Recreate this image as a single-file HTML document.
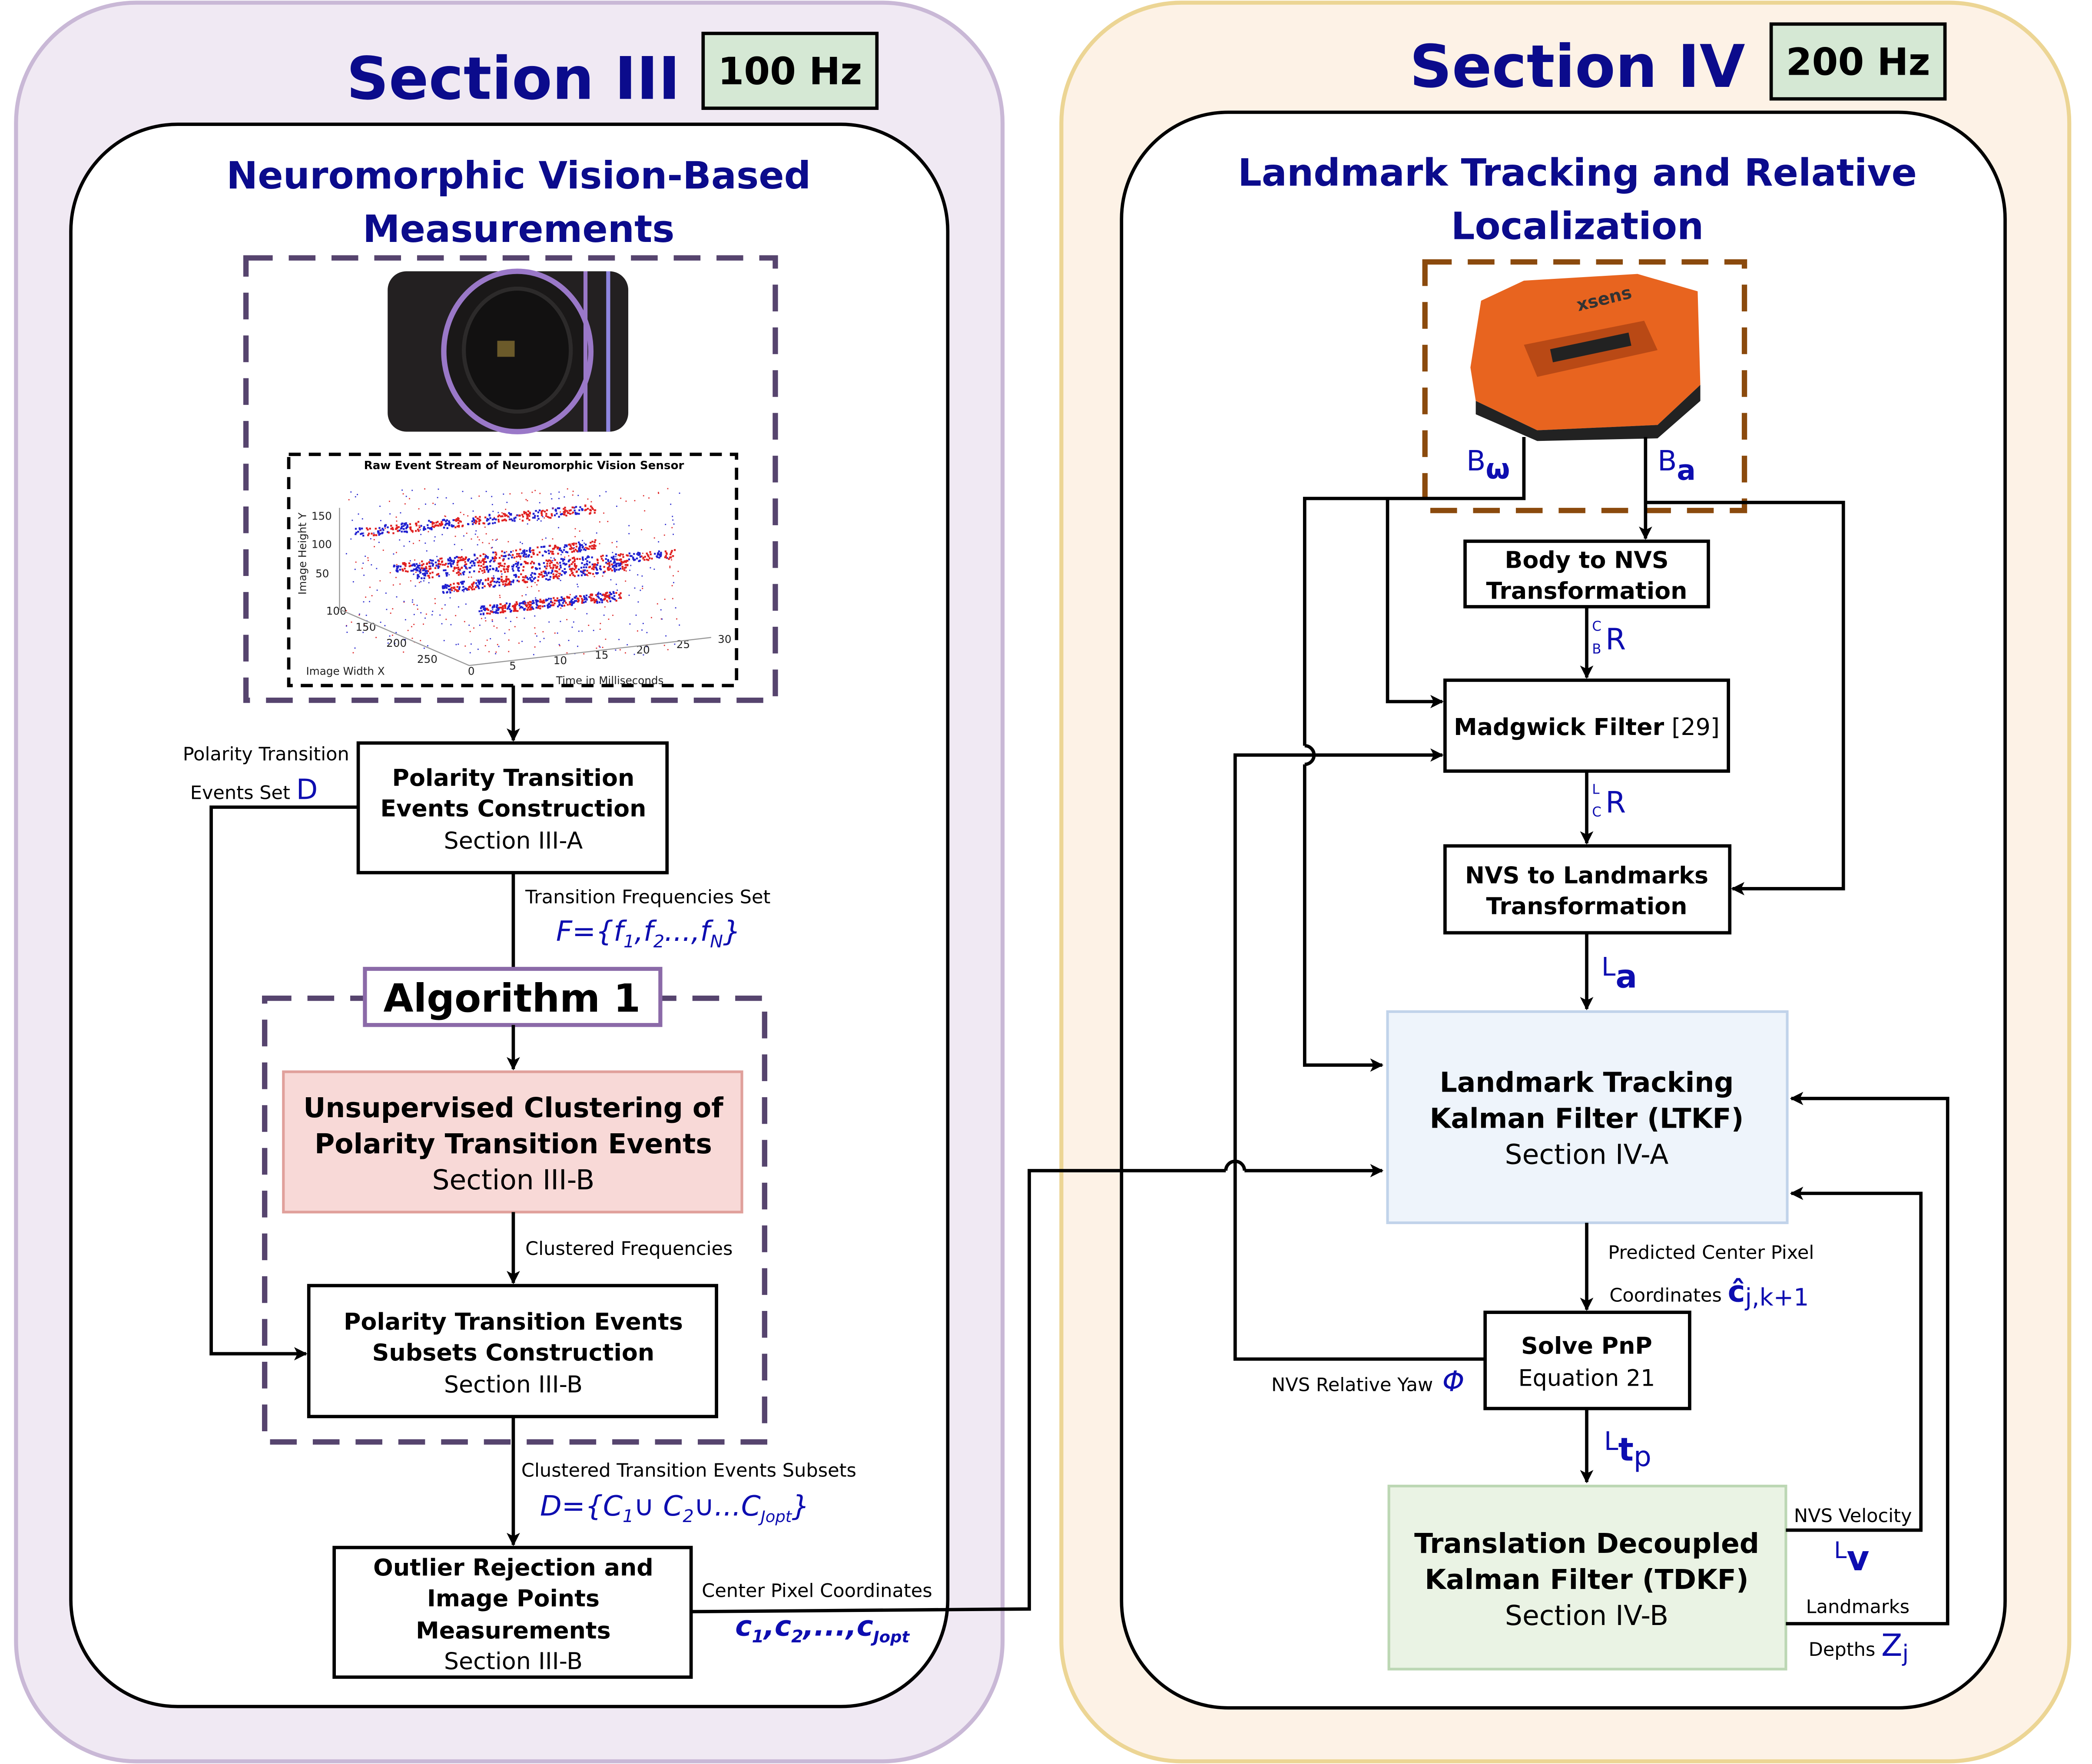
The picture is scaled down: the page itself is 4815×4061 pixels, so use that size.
<!DOCTYPE html>
<html><head><meta charset="utf-8"><style>
html,body{margin:0;padding:0;background:#fff}
svg{display:block}
text{font-family:"DejaVu Sans","Liberation Sans",sans-serif}
.b{font-weight:bold}
.bl{fill:#0d0db0}
.nb{fill:#0b0b8c;font-weight:bold}
</style></head><body>
<svg id="s" width="4815" height="4061" viewBox="0 0 1565 1320" preserveAspectRatio="none" xmlns="http://www.w3.org/2000/svg">
<defs><marker id="a" markerWidth="10" markerHeight="10" refX="9" refY="5" orient="auto" markerUnits="userSpaceOnUse"><path d="M0,0 L10,5 L0,10 L2.5,5 Z" fill="#000"/></marker></defs>
<!-- Left -->
<rect x="12" y="2" width="738" height="1316" rx="90" fill="#f0e9f3" stroke="#c9b8d6" stroke-width="3"/>
<rect x="53" y="93" width="656" height="1184" rx="80" fill="#fff" stroke="#000" stroke-width="2.5"/>
<text x="384" y="74" font-size="44" text-anchor="middle" class="nb">Section III</text>
<rect x="526" y="25" width="130" height="56" fill="#d5e8d4" stroke="#000" stroke-width="2.5"/>
<text x="591" y="63" font-size="28" text-anchor="middle" class="b">100 Hz</text>
<text x="388" y="141" font-size="28" text-anchor="middle" class="nb">Neuromorphic Vision-Based</text>
<text x="388" y="181" font-size="28" text-anchor="middle" class="nb">Measurements</text>
<rect x="184" y="193" width="396" height="331" fill="none" stroke="#56446e" stroke-width="4" stroke-dasharray="20 12"/>
<rect x="290" y="203" width="180" height="120" rx="14" fill="#232021"/>
<ellipse cx="387" cy="263" rx="55" ry="60" fill="#1a1818" stroke="#9a78c8" stroke-width="4"/>
<ellipse cx="387" cy="262" rx="40" ry="46" fill="#121111" stroke="#2c2a2a" stroke-width="3"/>
<rect x="372" y="255" width="13" height="12" fill="#6b5a2a"/>
<line x1="438" y1="203" x2="438" y2="323" stroke="#9a78c8" stroke-width="3"/>
<line x1="455" y1="203" x2="455" y2="323" stroke="#8f86e0" stroke-width="3"/>
<rect x="216" y="340" width="335" height="173" fill="#fff" stroke="#000" stroke-width="2.5" stroke-dasharray="9 6"/>
<text x="392" y="351" font-size="8.5" text-anchor="middle" class="b">Raw Event Stream of Neuromorphic Vision Sensor</text>
<g id="dots"></g>
<g font-size="8" fill="#222">
<text x="233" y="389">150</text><text x="233" y="410">100</text><text x="236" y="432">50</text>
<text x="244" y="460">100</text><text x="266" y="472">150</text><text x="289" y="484">200</text><text x="312" y="496">250</text>
<text x="350" y="505">0</text><text x="381" y="501">5</text><text x="414" y="497">10</text><text x="445" y="493">15</text><text x="476" y="489">20</text><text x="506" y="485">25</text><text x="537" y="481">30</text>
<text x="229" y="505">Image Width X</text><text x="416" y="512">Time in Milliseconds</text>
<text transform="translate(229,445) rotate(-90)">Image Height Y</text>
</g>
<polyline points="254,380 254,456 351,498 532,477" fill="none" stroke="#999" stroke-width="0.8"/>
<line x1="384" y1="513" x2="384" y2="554" stroke="#000" stroke-width="2.5" marker-end="url(#a)"/>
<rect x="268" y="556" width="231" height="97" fill="#fff" stroke="#000" stroke-width="2.5"/>
<text x="384" y="588" font-size="17.5" text-anchor="middle" class="b">Polarity Transition</text>
<text x="384" y="611" font-size="17.5" text-anchor="middle" class="b">Events Construction</text>
<text x="384" y="635" font-size="17.5" text-anchor="middle">Section III-A</text>
<text x="199" y="569" font-size="14" text-anchor="middle">Polarity Transition</text>
<text x="190" y="598" font-size="14" text-anchor="middle">Events Set <tspan class="bl" font-size="21">D</tspan></text>
<polyline points="268,604 158,604 158,1013 229,1013" fill="none" stroke="#000" stroke-width="2.5" marker-end="url(#a)"/>
<line x1="384" y1="653" x2="384" y2="727" stroke="#000" stroke-width="2.5"/>
<text x="393" y="676" font-size="14">Transition Frequencies Set</text>
<text x="416" y="704" font-size="21" class="bl" font-style="italic">F={f<tspan font-size="13" dy="5">1</tspan><tspan dy="-5">,f</tspan><tspan font-size="13" dy="5">2</tspan><tspan dy="-5">...,f</tspan><tspan font-size="13" dy="5">N</tspan><tspan dy="-5">}</tspan></text>
<rect x="198" y="747" width="374" height="332" fill="none" stroke="#56446e" stroke-width="4" stroke-dasharray="20 12"/>
<rect x="273" y="725" width="221" height="42" fill="#fff" stroke="#8b6aa8" stroke-width="3"/>
<text x="383" y="757" font-size="29" text-anchor="middle" class="b">Algorithm 1</text>
<line x1="384" y1="767" x2="384" y2="800" stroke="#000" stroke-width="2.5" marker-end="url(#a)"/>
<rect x="212" y="802" width="343" height="105" fill="#f8d9d7" stroke="#e0a09b" stroke-width="2"/>
<text x="384" y="836" font-size="20.5" text-anchor="middle" class="b">Unsupervised Clustering of</text>
<text x="384" y="863" font-size="20.5" text-anchor="middle" class="b">Polarity Transition Events</text>
<text x="384" y="890" font-size="20.5" text-anchor="middle">Section III-B</text>
<line x1="384" y1="907" x2="384" y2="960" stroke="#000" stroke-width="2.5" marker-end="url(#a)"/>
<text x="393" y="939" font-size="14">Clustered Frequencies</text>
<rect x="231" y="962" width="305" height="98" fill="#fff" stroke="#000" stroke-width="2.5"/>
<text x="384" y="995" font-size="17.5" text-anchor="middle" class="b">Polarity Transition Events</text>
<text x="384" y="1018" font-size="17.5" text-anchor="middle" class="b">Subsets Construction</text>
<text x="384" y="1042" font-size="17.5" text-anchor="middle">Section III-B</text>
<line x1="384" y1="1060" x2="384" y2="1156" stroke="#000" stroke-width="2.5" marker-end="url(#a)"/>
<text x="390" y="1105" font-size="14">Clustered Transition Events Subsets</text>
<text x="404" y="1134" font-size="21" class="bl" font-style="italic">D={C<tspan font-size="13" dy="5">1</tspan><tspan dy="-5">∪ C</tspan><tspan font-size="13" dy="5">2</tspan><tspan dy="-5">∪...C</tspan><tspan font-size="12" dy="5">Jopt</tspan><tspan dy="-5">}</tspan></text>
<rect x="250" y="1158" width="267" height="97" fill="#fff" stroke="#000" stroke-width="2.5"/>
<text x="384" y="1179" font-size="17.5" text-anchor="middle" class="b">Outlier Rejection and</text>
<text x="384" y="1202" font-size="17.5" text-anchor="middle" class="b">Image Points</text>
<text x="384" y="1226" font-size="17.5" text-anchor="middle" class="b">Measurements</text>
<text x="384" y="1249" font-size="17.5" text-anchor="middle">Section III-B</text>
<text x="525" y="1195" font-size="14">Center Pixel Coordinates</text>
<text x="550" y="1224" font-size="21" class="bl" font-style="italic" font-weight="bold">c<tspan font-size="13" dy="5">1</tspan><tspan dy="-5">,c</tspan><tspan font-size="13" dy="5">2</tspan><tspan dy="-5">,...,c</tspan><tspan font-size="12" dy="5">Jopt</tspan></text>
<!-- Right -->
<rect x="794" y="2" width="754" height="1316" rx="90" fill="#fdf2e6" stroke="#ecd594" stroke-width="3"/>
<rect x="839" y="84" width="661" height="1194" rx="80" fill="#fff" stroke="#000" stroke-width="2.5"/>
<text x="1180" y="65" font-size="44" text-anchor="middle" class="nb">Section IV</text>
<rect x="1325" y="18" width="130" height="56" fill="#d5e8d4" stroke="#000" stroke-width="2.5"/>
<text x="1390" y="56" font-size="28" text-anchor="middle" class="b">200 Hz</text>
<text x="1180" y="139" font-size="28" text-anchor="middle" class="nb">Landmark Tracking and Relative</text>
<text x="1180" y="179" font-size="28" text-anchor="middle" class="nb">Localization</text>
<rect x="1066" y="196" width="239" height="186" fill="none" stroke="#8b4a0d" stroke-width="4" stroke-dasharray="20 12"/>
<path d="M1100,275 L1108,225 L1140,210 L1225,205 L1270,218 L1272,288 L1240,318 L1150,322 L1104,300 Z" fill="#e8641f"/>
<path d="M1104,300 L1150,322 L1240,318 L1272,288 L1272,300 L1240,328 L1150,330 L1104,310 Z" fill="#222"/>
<path d="M1140,258 L1230,240 L1240,262 L1150,282 Z" fill="#b94915"/>
<rect x="1160" y="255" width="60" height="10" fill="#222" transform="rotate(-12 1190 260)"/>
<text x="1180" y="233" font-size="13" fill="#333" class="b" transform="rotate(-14 1180 230)">xsens</text>
<text x="1097" y="352" font-size="21" class="bl">B<tspan font-weight="bold" dy="6">ω</tspan></text>
<text x="1240" y="352" font-size="21" class="bl">B<tspan font-weight="bold" dy="7">a</tspan></text>
<polyline points="1140,327 1140,373 976,373 976,558" fill="none" stroke="#000" stroke-width="2.5"/>
<path d="M976,558 A7,7 0 0 1 976,572" fill="none" stroke="#000" stroke-width="2.5"/>
<polyline points="976,572 976,797 1034,797" fill="none" stroke="#000" stroke-width="2.5" marker-end="url(#a)"/>
<polyline points="1038,373 1038,525 1079,525" fill="none" stroke="#000" stroke-width="2.5" marker-end="url(#a)"/>
<line x1="1231" y1="327" x2="1231" y2="403" stroke="#000" stroke-width="2.5" marker-end="url(#a)"/>
<polyline points="1231,376 1379,376 1379,665 1296,665" fill="none" stroke="#000" stroke-width="2.5" marker-end="url(#a)"/>
<rect x="1096" y="405" width="182" height="49" fill="#fff" stroke="#000" stroke-width="2.5"/>
<text x="1187" y="425" font-size="17.5" text-anchor="middle" class="b">Body to NVS</text>
<text x="1187" y="448" font-size="17.5" text-anchor="middle" class="b">Transformation</text>
<line x1="1187" y1="454" x2="1187" y2="507" stroke="#000" stroke-width="2.5" marker-end="url(#a)"/>
<text x="1191" y="472" font-size="10" class="bl">C</text><text x="1191" y="489" font-size="10" class="bl">B</text><text x="1201" y="486" font-size="22" class="bl">R</text>
<rect x="1081" y="509" width="212" height="68" fill="#fff" stroke="#000" stroke-width="2.5"/>
<text x="1187" y="550" font-size="17.5" text-anchor="middle"><tspan class="b">Madgwick Filter</tspan> [29]</text>
<line x1="1187" y1="577" x2="1187" y2="631" stroke="#000" stroke-width="2.5" marker-end="url(#a)"/>
<text x="1191" y="594" font-size="10" class="bl">L</text><text x="1191" y="611" font-size="10" class="bl">C</text><text x="1201" y="608" font-size="22" class="bl">R</text>
<rect x="1081" y="633" width="213" height="65" fill="#fff" stroke="#000" stroke-width="2.5"/>
<text x="1187" y="661" font-size="17.5" text-anchor="middle" class="b">NVS to Landmarks</text>
<text x="1187" y="684" font-size="17.5" text-anchor="middle" class="b">Transformation</text>
<line x1="1187" y1="698" x2="1187" y2="755" stroke="#000" stroke-width="2.5" marker-end="url(#a)"/>
<text x="1198" y="730" font-size="19" class="bl">L<tspan font-size="24" font-weight="bold" dy="9">a</tspan></text>
<rect x="1038" y="757" width="299" height="158" fill="#eef4fb" stroke="#c1d3ea" stroke-width="2"/>
<text x="1187" y="817" font-size="20.5" text-anchor="middle" class="b">Landmark Tracking</text>
<text x="1187" y="844" font-size="20.5" text-anchor="middle" class="b">Kalman Filter (LTKF)</text>
<text x="1187" y="871" font-size="20.5" text-anchor="middle">Section IV-A</text>
<line x1="1187" y1="915" x2="1187" y2="980" stroke="#000" stroke-width="2.5" marker-end="url(#a)"/>
<text x="1203" y="942" font-size="14">Predicted Center Pixel</text>
<text x="1204" y="974" font-size="14">Coordinates <tspan class="bl" font-size="22" font-weight="bold">ĉ</tspan><tspan class="bl" font-size="18" dy="3">j,k+1</tspan></text>
<rect x="1111" y="982" width="153" height="72" fill="#fff" stroke="#000" stroke-width="2.5"/>
<text x="1187" y="1013" font-size="17.5" text-anchor="middle" class="b">Solve PnP</text>
<text x="1187" y="1037" font-size="17" text-anchor="middle">Equation 21</text>
<polyline points="1111,1017 924,1017 924,565 1079,565" fill="none" stroke="#000" stroke-width="2.5" marker-end="url(#a)"/>
<text x="1072" y="1041" font-size="14" text-anchor="end">NVS Relative Yaw</text>
<text x="1079" y="1041" font-size="21" class="bl" font-style="italic">Φ</text>
<polyline points="517,1206 770,1204 770,876 917,876" fill="none" stroke="#000" stroke-width="2.5"/>
<path d="M917,876 A7,7 0 0 1 931,876" fill="none" stroke="#000" stroke-width="2.5"/>
<line x1="931" y1="876" x2="1034" y2="876" stroke="#000" stroke-width="2.5" marker-end="url(#a)"/>
<line x1="1187" y1="1054" x2="1187" y2="1109" stroke="#000" stroke-width="2.5" marker-end="url(#a)"/>
<text x="1200" y="1085" font-size="19" class="bl">L<tspan font-size="24" font-weight="bold" dy="8">t</tspan><tspan font-size="21" dy="4">p</tspan></text>
<rect x="1039" y="1112" width="297" height="137" fill="#eaf3e4" stroke="#bcd7b4" stroke-width="2"/>
<text x="1187" y="1162" font-size="20.5" text-anchor="middle" class="b">Translation Decoupled</text>
<text x="1187" y="1189" font-size="20.5" text-anchor="middle" class="b">Kalman Filter (TDKF)</text>
<text x="1187" y="1216" font-size="20.5" text-anchor="middle">Section IV-B</text>
<polyline points="1336,1145 1437,1145 1437,893 1340,893" fill="none" stroke="#000" stroke-width="2.5" marker-end="url(#a)"/>
<text x="1342" y="1139" font-size="14">NVS Velocity</text>
<text x="1372" y="1166" font-size="17" class="bl">L<tspan font-size="26" font-weight="bold" dy="9">v</tspan></text>
<polyline points="1336,1215 1457,1215 1457,822 1340,822" fill="none" stroke="#000" stroke-width="2.5" marker-end="url(#a)"/>
<text x="1351" y="1207" font-size="14">Landmarks</text>
<text x="1353" y="1239" font-size="14">Depths <tspan class="bl" font-size="23">Z</tspan><tspan class="bl" font-size="17" dy="4">j</tspan></text>
</svg>
<script>
(function(){var g=document.getElementById('dots'),s=1234567;function r(){s=(s*1103515245+12345)%2147483648;return s/2147483648;}
var h='';var lines=[[265,398,445,380],[293,425,445,407],[310,429,505,414],[330,440,470,422],[358,456,465,445]];
for(var k=0;k<lines.length;k++){var L=lines[k];for(var i=0;i<320;i++){var t=r();var x=L[0]+(L[2]-L[0])*t,y=L[1]+(L[3]-L[1])*t+(r()-0.5)*7;var c=(Math.floor(t*22)%2)?'#e02020':'#2020d0';h+='<rect x="'+x.toFixed(1)+'" y="'+y.toFixed(1)+'" width="1.4" height="1.4" fill="'+c+'"/>';}}
for(var i=0;i<500;i++){var x=258+r()*250,y=365+r()*125;h+='<rect x="'+x.toFixed(1)+'" y="'+y.toFixed(1)+'" width="0.9" height="0.9" fill="'+(r()<0.5?'#e03030':'#3030d0')+'"/>';}
g.innerHTML=h;})();
</script>
</body></html>
